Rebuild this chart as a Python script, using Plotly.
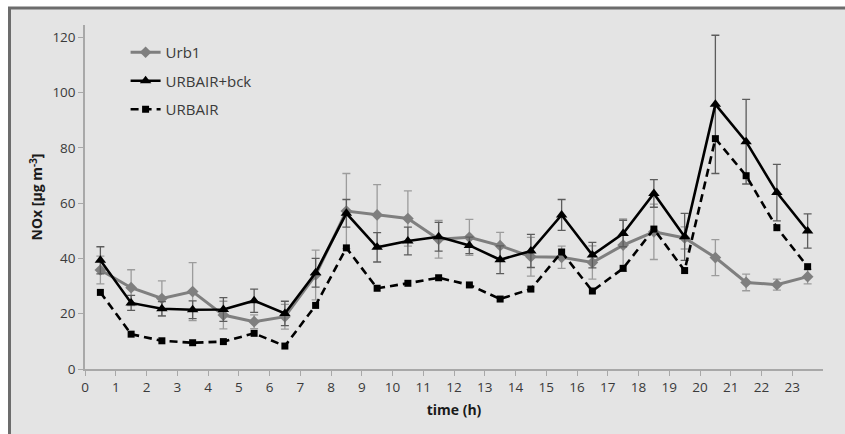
import plotly.graph_objects as go

# Hourly NOx concentrations (µg m-3), values at the half hour
hours = [0.5, 1.5, 2.5, 3.5, 4.5, 5.5, 6.5, 7.5, 8.5, 9.5, 10.5, 11.5,
         12.5, 13.5, 14.5, 15.5, 16.5, 17.5, 18.5, 19.5, 20.5, 21.5, 22.5, 23.5]

urb1 = [35.8, 29.4, 25.5, 28.0, 19.5, 17.1, 18.9, 34.0, 57.1, 55.7, 54.4, 46.9,
        47.6, 44.6, 40.6, 40.4, 38.5, 44.8, 49.6, 47.4, 40.3, 31.3, 30.5, 33.4]
urb1_err = [5.0, 6.5, 6.4, 10.5, 5.0, 2.5, 4.5, 9.0, 13.6, 11.0, 10.0, 6.8,
            6.5, 4.8, 7.0, 4.0, 6.0, 9.5, 10.0, 4.0, 6.5, 3.0, 2.0, 2.6]

urbair_bck = [39.3, 23.9, 21.8, 21.4, 21.5, 24.7, 20.1, 34.8, 56.3, 44.0, 46.3, 47.8,
              44.7, 39.5, 42.7, 55.7, 41.2, 49.0, 63.5, 47.8, 95.7, 82.2, 63.8, 49.9]
urbair_bck_err = [4.9, 2.7, 2.6, 3.2, 4.3, 4.2, 4.4, 5.2, 5.0, 5.3, 5.0, 5.2,
                  3.0, 5.0, 6.0, 5.6, 4.6, 4.8, 5.0, 8.5, 25.0, 15.3, 10.2, 6.2]

urbair = [27.7, 12.6, 10.2, 9.5, 9.9, 12.9, 8.3, 23.0, 43.8, 29.2, 31.0, 33.0,
          30.4, 25.3, 28.9, 42.3, 28.2, 36.4, 50.6, 35.6, 83.3, 69.9, 51.1, 37.0]

x_ticks = list(range(0, 24))
y_ticks = [0, 20, 40, 60, 80, 100, 120]

FONT = "Open Sans"
TEXT = "#3a3a3a"
AXIS = "#a8a8a8"

fig = go.Figure()

fig.add_trace(go.Scatter(
    x=hours, y=urb1, name="Urb1", mode="lines+markers", legendgroup="a",
    line=dict(color="#7f7f7f", width=3),
    marker=dict(symbol="diamond", size=9, color="#7f7f7f"),
    error_y=dict(type="data", array=urb1_err, visible=True,
                 color="#9c9c9c", thickness=1.3, width=4),
))
fig.add_trace(go.Scatter(
    x=hours, y=urbair_bck, name="URBAIR+bck", mode="lines+markers", legendgroup="b",
    line=dict(color="#000000", width=2.6),
    marker=dict(symbol="triangle-up", size=10, color="#000000"),
    error_y=dict(type="data", array=urbair_bck_err, visible=True,
                 color="#5c5c5c", thickness=1.3, width=4),
))
fig.add_trace(go.Scatter(
    x=hours, y=urbair, name="URBAIR", mode="lines+markers", legendgroup="c",
    line=dict(color="#000000", width=2.6, dash="8px,5px"),
    marker=dict(symbol="square", size=7, color="#000000"),
))

# chart frame behind the plot
fig.add_shape(type="rect", xref="paper", yref="paper",
              x0=-0.1023, y0=1.0494, x1=1.04, y1=-0.21,
              line=dict(color="#6c6c6c", width=3), fillcolor="#e4e4e4",
              layer="below")

fig.update_layout(
    width=845, height=434,
    margin=dict(l=85, r=22, t=25, b=65),
    paper_bgcolor="white",
    plot_bgcolor="rgba(0,0,0,0)",
    font=dict(family=FONT, size=13.5, color=TEXT),
    showlegend=True,
    legend=dict(x=0.055, y=0.968, xanchor="left", yanchor="top",
                bgcolor="rgba(0,0,0,0)", traceorder="grouped",
                tracegroupgap=6, font=dict(family=FONT, size=15, color=TEXT)),
    xaxis=dict(range=[0, 24], tickmode="array", tickvals=x_ticks,
               ticktext=[str(v) for v in x_ticks],
               showgrid=False, zeroline=False, showline=True,
               linecolor=AXIS, linewidth=1.5, ticks="outside", ticklen=5,
               tickcolor=AXIS, tickwidth=1,
               title=dict(text="<b>time (h)</b>", standoff=10,
                          font=dict(family=FONT, size=14, color="#1a1a1a"))),
    yaxis=dict(range=[0, 124.4], tickmode="array", tickvals=y_ticks,
               showgrid=False, zeroline=False, showline=True,
               linecolor=AXIS, linewidth=1.5, ticks="outside", ticklen=5,
               tickcolor=AXIS, tickwidth=1,
               title=dict(text="<b>NOx [µg m<sup>-3</sup>]</b>", standoff=6,
                          font=dict(family=FONT, size=14, color="#1a1a1a"))),
)

fig.write_html("out.html")
